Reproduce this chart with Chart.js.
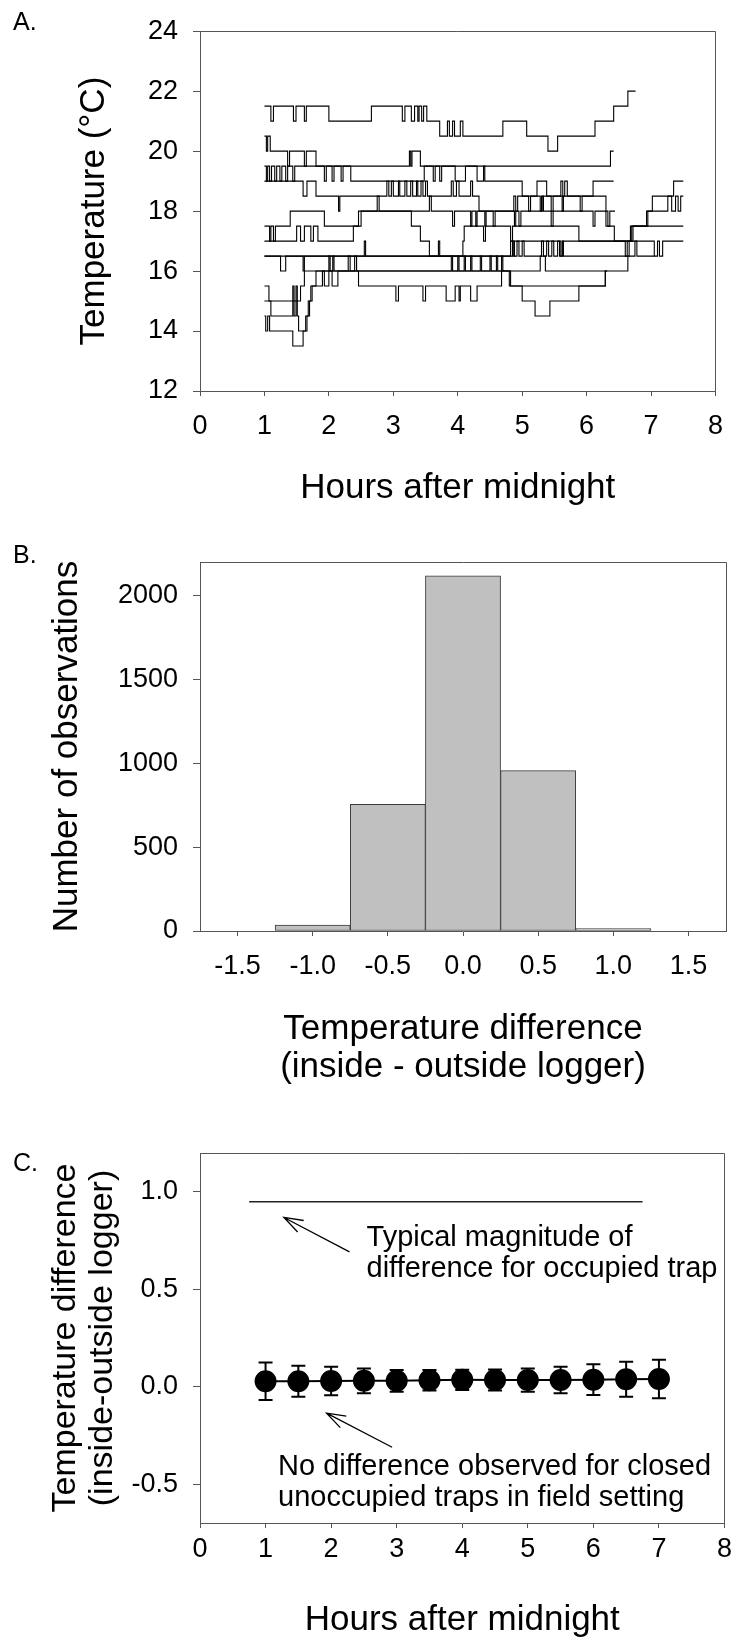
<!DOCTYPE html>
<html>
<head>
<meta charset="utf-8">
<title>Trap temperature loggers</title>
<script src="https://cdn.jsdelivr.net/npm/chart.js@4.4.1/dist/chart.umd.min.js"></script>
<style>
  html, body { margin: 0; padding: 0; background: #fff; }
  body { width: 737px; height: 1640px; position: relative; overflow: hidden; font-family: "Liberation Sans", Arial, sans-serif; }
  canvas { position: absolute; left: 0; }
  .tag { position: absolute; left: 13px; font-size: 25px; line-height: 25px; color: #000; }
</style>
</head>
<body>
<canvas id="chartA" width="737" height="520" style="top:0"></canvas>
<canvas id="chartB" width="737" height="570" style="top:520px"></canvas>
<canvas id="chartC" width="737" height="555" style="top:1090px"></canvas>
<div class="tag" style="top:9px">A.</div>
<div class="tag" style="top:542px">B.</div>
<div class="tag" style="top:1150px">C.</div>
<script>
// A: logger traces, [hour, temp] at each change of reading (0.5 C steps)
var logger1 = [[1.00,21.5],[1.10,21],[1.14,21.5],[1.45,21],[1.49,21.5],[1.62,21],[1.65,21.5],[2.00,21],[2.66,21.5],[3.14,21],[3.18,21.5],[3.28,21],[3.33,21.5],[3.38,21],[3.40,21.5],[3.44,21],[3.47,21.5],[3.52,21],[3.72,20.5],[3.84,21],[3.87,20.5],[3.92,21],[3.95,20.5],[4.04,21],[4.08,20.5],[4.70,21],[5.07,20.5],[5.40,20],[5.55,20.5],[6.13,21],[6.42,21.5],[6.64,22],[6.76,22]];
var logger2 = [[1.00,20.5],[1.03,20],[1.05,20.5],[1.09,20],[1.36,19.5],[1.39,20],[1.62,19.5],[1.65,20],[1.80,19.5],[3.25,20],[3.27,19.5],[3.29,20],[3.42,19.5],[6.37,20],[6.42,20]];
var logger3 = [[1.00,19.5],[1.03,19],[1.05,19.5],[1.08,19],[1.11,19.5],[1.16,19],[1.19,19.5],[1.24,19],[1.27,19.5],[1.33,19],[1.36,19.5],[1.44,19],[1.47,19.5],[1.93,19],[1.96,19.5],[2.05,19],[2.08,19.5],[2.19,19],[2.22,19.5],[2.34,19],[3.48,19.5],[3.62,19],[3.65,19.5],[3.72,19],[3.75,19.5],[3.96,19],[4.12,19.5],[4.30,19],[4.40,19.5],[4.42,19],[5.00,18.5],[5.23,19],[5.38,18.5],[5.60,19],[5.63,18.5],[5.66,19],[5.70,18.5],[6.10,19],[6.42,19]];
var logger4 = [[1.00,19],[1.60,18.5],[1.66,19],[1.80,18.5],[2.15,18],[2.17,18.5],[2.90,19],[2.93,18.5],[2.97,19],[3.00,18.5],[3.08,19],[3.10,18.5],[3.18,19],[3.21,18.5],[3.27,19],[3.30,18.5],[3.36,19],[3.38,18.5],[3.43,19],[3.46,18.5],[3.50,19],[3.53,18.5],[3.90,19],[3.93,18.5],[3.98,19],[4.02,18.5],[4.20,19],[4.23,18.5],[4.33,18],[4.87,18.5],[4.90,18],[4.93,18.5],[5.10,18],[5.13,18.5],[5.28,18],[5.32,18.5],[5.45,18],[5.48,18.5],[5.62,18],[5.64,18.5],[5.90,18],[5.93,18.5],[6.30,18],[6.33,17.5],[6.43,17],[6.70,17.5],[6.93,18],[7.26,18.5],[7.32,18],[7.38,18.5],[7.42,18],[7.46,18.5],[7.50,18.5]];
var logger5 = [[1.00,17.5],[1.08,17],[1.10,17.5],[1.14,17],[1.17,17.5],[1.40,18],[1.93,17.5],[2.50,18],[2.75,18.5],[2.78,18],[3.56,18.5],[3.59,18],[3.92,17.5],[3.95,18],[4.20,17.5],[4.22,18],[4.28,17.5],[4.30,18],[4.42,17.5],[4.44,18],[4.55,17.5],[4.58,18],[4.88,17.5],[4.90,18],[4.95,17.5],[4.98,18],[5.30,18.5],[5.33,18],[5.45,17.5],[5.48,18],[6.10,17.5],[6.13,18],[6.30,17.5],[6.36,18],[6.44,18]];
var logger6 = [[1.00,17],[1.50,17.5],[1.56,17],[1.62,17.5],[1.72,17],[1.76,17.5],[1.83,17],[2.38,17.5],[2.46,18],[3.28,17.5],[3.42,17],[3.56,16.5],[4.08,17],[4.10,17.5],[4.40,17],[4.43,17.5],[4.82,17],[4.85,17.5],[5.88,17],[6.72,17.5],[6.95,18],[7.02,18.5],[7.35,19],[7.50,19]];
var logger7 = [[1.00,16.5],[1.25,16],[1.33,16.5],[2.55,17],[2.57,16.5],[4.85,17],[4.88,16.5],[4.92,17],[4.95,16.5],[5.00,17],[5.03,16.5],[5.30,17],[5.33,16.5],[5.38,17],[5.41,16.5],[5.46,17],[5.49,16.5],[5.55,17],[5.58,16.5],[5.62,17],[5.64,16.5],[6.75,17],[6.78,16.5],[7.05,16.5]];
var logger8 = [[1.00,15],[1.44,15.5],[1.46,15],[1.49,15.5],[1.51,15],[1.56,15.5],[1.62,16],[2.00,16.5],[2.02,16],[2.06,16.5],[2.08,16],[2.30,16.5],[2.33,16],[2.40,16.5],[2.43,16],[3.90,16.5],[3.92,16],[4.00,16.5],[4.02,16],[4.10,16.5],[4.12,16],[4.20,16.5],[4.22,16],[4.35,16.5],[4.37,16],[4.50,16.5],[4.52,16],[4.60,16.5],[4.62,16],[4.68,16.5],[4.70,16],[5.28,16.5],[5.36,16],[6.64,16.5],[6.66,17],[6.68,17.5],[7.50,17.5]];
var logger9 = [[1.00,15.5],[1.07,15],[1.10,14.5],[1.44,15],[1.46,14.5],[1.49,15],[1.51,14.5],[1.53,14],[1.66,14.5],[1.70,15],[1.74,15.5],[1.80,16],[4.80,15.5],[5.00,15],[5.20,14.5],[5.43,15],[5.88,15.5],[6.29,16],[6.32,16]];
var logger10 = [[1.00,14.5],[1.02,14],[1.05,14.5],[1.08,14],[1.44,13.5],[1.60,14],[1.64,14.5],[1.68,15],[1.72,15.5],[1.90,16],[1.93,15.5],[2.00,16],[2.05,15.5],[2.14,16],[2.46,15.5],[3.04,15],[3.08,15.5],[3.46,15],[3.50,15.5],[3.82,15],[3.96,15.5],[4.02,15],[4.04,15.5],[4.20,15],[4.30,15.5],[4.68,16],[4.82,15.5],[6.29,16],[6.31,16]];
var logger11 = [[1.00,16.5],[1.60,16],[1.62,16.5],[3.70,17],[3.72,16.5],[4.82,17],[4.86,16.5],[4.88,17],[5.60,16.5],[5.63,17],[6.60,16.5],[6.63,17],[7.05,16.5],[7.10,17],[7.13,16.5],[7.18,17],[7.50,17]];
var loggers = [logger1, logger2, logger3, logger4, logger5, logger6, logger7, logger8, logger9, logger10, logger11];

// B: histogram of inside - outside differences
var diffBins = ['-1.5', '-1.0', '-0.5', '0.0', '0.5', '1.0', '1.5'];
var diffCounts = [0, 35, 755, 2118, 956, 14, 0];
var countTicks = [0, 500, 1000, 1500, 2000];

// C: mean difference (+/- error) through the night
var hoursC = [1, 1.5, 2, 2.5, 3, 3.5, 4, 4.5, 5, 5.5, 6, 6.5, 7];
var meanDiff = [0.028, 0.028, 0.029, 0.030, 0.030, 0.033, 0.035, 0.034, 0.034, 0.034, 0.036, 0.038, 0.039];
var errDiff = [0.096, 0.080, 0.073, 0.064, 0.056, 0.053, 0.052, 0.054, 0.060, 0.068, 0.079, 0.090, 0.099];
var occupiedHours = [0.75, 6.75];
var occupiedDiff = 0.95;

var axisGrey = '#555';
var fontFam = '"Liberation Sans", Arial, sans-serif';
Chart.defaults.font.family = fontFam;
Chart.defaults.color = '#000';
Chart.defaults.animation = false;
Chart.defaults.plugins.legend.display = false;
Chart.defaults.plugins.tooltip.enabled = false;

// top and right sides of the box
var framePlugin = {
  id: 'frame',
  afterDraw: function(chart) {
    var a = chart.chartArea, ctx = chart.ctx;
    ctx.save();
    ctx.strokeStyle = axisGrey;
    ctx.lineWidth = 1;
    ctx.beginPath();
    ctx.moveTo(Math.round(a.left), Math.round(a.top) + 0.5);
    ctx.lineTo(Math.round(a.right) + 0.5, Math.round(a.top) + 0.5);
    ctx.lineTo(Math.round(a.right) + 0.5, Math.round(a.bottom));
    ctx.stroke();
    ctx.restore();
  }
};

function grid(len) {
  return { drawOnChartArea: false, tickLength: len, color: axisGrey, tickColor: axisGrey };
}

new Chart(document.getElementById('chartA'), {
  type: 'line',
  data: {
    datasets: loggers.map(function(d) {
      return { data: d, borderColor: '#000', borderWidth: 1.1, pointRadius: 0, stepped: 'before', fill: false };
    })
  },
  options: {
    responsive: false,
    layout: { padding: { top: 23, right: 11, left: 0, bottom: 0 } },
    scales: {
      x: {
        type: 'linear', min: 0, max: 8,
        ticks: { stepSize: 1, padding: 14, font: { size: 27 } },
        grid: grid(5), border: { color: axisGrey },
        title: { display: true, text: 'Hours after midnight', font: { size: 35 }, padding: { top: 0, bottom: 11 } },
        afterFit: function(s) { s.height = 129; }
      },
      y: {
        min: 12, max: 24,
        ticks: { stepSize: 2, padding: 15, font: { size: 27 } },
        grid: grid(7), border: { color: axisGrey },
        title: { display: true, text: 'Temperature (°C)', font: { size: 35 }, padding: { top: 73, bottom: 0 } },
        afterFit: function(s) { s.width = 200; }
      }
    }
  },
  plugins: [framePlugin]
});

new Chart(document.getElementById('chartB'), {
  type: 'bar',
  data: {
    labels: diffBins,
    datasets: [{
      data: diffCounts, backgroundColor: '#c0c0c0', borderColor: '#3c3c3c', borderWidth: 1,
      borderSkipped: false, barPercentage: 1, categoryPercentage: 1
    }]
  },
  options: {
    responsive: false,
    layout: { padding: { top: 42, right: 11, left: 0, bottom: 0 } },
    scales: {
      x: {
        offset: true,
        ticks: { padding: 14, font: { size: 27 } },
        grid: { offset: false, drawOnChartArea: false, tickLength: 5, color: axisGrey, tickColor: axisGrey },
        border: { color: axisGrey },
        title: {
          display: true, text: ['Temperature difference', '(inside - outside logger)'],
          font: { size: 35, lineHeight: 1.0857 }, padding: { top: 0, bottom: 4 }
        },
        afterFit: function(s) { s.height = 159; }
      },
      y: {
        min: 0, max: 2200,
        ticks: { padding: 15, font: { size: 27 }, callback: function(v) { return String(v); } },
        afterBuildTicks: function(s) { s.ticks = countTicks.map(function(v) { return { value: v }; }); },
        grid: grid(7), border: { color: axisGrey },
        title: { display: true, text: 'Number of observations', font: { size: 35 }, padding: { top: 46, bottom: 0 } },
        afterFit: function(s) { s.width = 200; }
      }
    }
  },
  plugins: [framePlugin]
});

// annotation text and arrows of panel C, anchored in data units
var notes = [
  { x: 2.54, y: 0.725, lines: ['Typical magnitude of', 'difference for occupied trap'] },
  { x: 1.19, y: -0.452, lines: ['No difference observed for closed', 'unoccupied traps in field setting'] }
];
var arrows = [
  { from: [2.28, 0.692], to: [1.28, 0.869] },
  { from: [2.93, -0.311], to: [1.93, -0.136] }
];

var errorBarPlugin = {
  id: 'errorBars',
  afterDatasetsDraw: function(chart) {
    var ctx = chart.ctx, xs = chart.scales.x, ys = chart.scales.y;
    ctx.save();
    ctx.strokeStyle = '#000';
    ctx.lineWidth = 2;
    hoursC.forEach(function(h, i) {
      var px = xs.getPixelForValue(h);
      var top = ys.getPixelForValue(meanDiff[i] + errDiff[i]);
      var bot = ys.getPixelForValue(meanDiff[i] - errDiff[i]);
      ctx.beginPath();
      ctx.moveTo(px, top); ctx.lineTo(px, bot);
      ctx.moveTo(px - 7, top); ctx.lineTo(px + 7, top);
      ctx.moveTo(px - 7, bot); ctx.lineTo(px + 7, bot);
      ctx.stroke();
    });
    ctx.restore();
  }
};

var notePlugin = {
  id: 'notes',
  afterDraw: function(chart) {
    var ctx = chart.ctx, xs = chart.scales.x, ys = chart.scales.y;
    ctx.save();
    ctx.fillStyle = '#000';
    ctx.font = '29px ' + fontFam;
    ctx.textBaseline = 'alphabetic';
    ctx.textAlign = 'left';
    notes.forEach(function(n) {
      var px = xs.getPixelForValue(n.x), py = ys.getPixelForValue(n.y);
      n.lines.forEach(function(t, k) { ctx.fillText(t, px, py + k * 31.5); });
    });
    ctx.strokeStyle = '#000';
    ctx.lineWidth = 1.3;
    arrows.forEach(function(a) {
      var x1 = xs.getPixelForValue(a.from[0]), y1 = ys.getPixelForValue(a.from[1]);
      var x2 = xs.getPixelForValue(a.to[0]), y2 = ys.getPixelForValue(a.to[1]);
      var ang = Math.atan2(y1 - y2, x1 - x2), w = 19 * Math.PI / 180, len = 20;
      ctx.beginPath();
      ctx.moveTo(x1, y1); ctx.lineTo(x2, y2);
      ctx.moveTo(x2 + len * Math.cos(ang - w), y2 + len * Math.sin(ang - w));
      ctx.lineTo(x2, y2);
      ctx.lineTo(x2 + len * Math.cos(ang + w), y2 + len * Math.sin(ang + w));
      ctx.stroke();
    });
    ctx.restore();
  }
};

new Chart(document.getElementById('chartC'), {
  type: 'line',
  data: {
    datasets: [
      {
        data: occupiedHours.map(function(h) { return { x: h, y: occupiedDiff }; }),
        borderColor: '#222', borderWidth: 1.5, pointRadius: 0, fill: false
      },
      {
        data: hoursC.map(function(h, i) { return { x: h, y: meanDiff[i] }; }),
        borderColor: '#000', borderWidth: 2, pointRadius: 10,
        pointBackgroundColor: '#000', pointBorderColor: '#000', fill: false
      }
    ]
  },
  options: {
    responsive: false,
    layout: { padding: { top: 63, right: 11, left: 0, bottom: 0 } },
    scales: {
      x: {
        type: 'linear', min: 0, max: 8,
        ticks: { stepSize: 1, padding: 5, font: { size: 27 } },
        grid: grid(5), border: { color: axisGrey },
        title: { display: true, text: 'Hours after midnight', font: { size: 35 }, padding: { top: 0, bottom: 4 } },
        afterFit: function(s) { s.height = 122; }
      },
      y: {
        min: -0.7, max: 1.2,
        ticks: { stepSize: 0.5, includeBounds: false, padding: 15, font: { size: 27 },
                 callback: function(v) { return v.toFixed(1); } },
        grid: grid(7), border: { color: axisGrey },
        title: {
          display: true, text: ['Temperature difference', '(inside-outside logger)'],
          font: { size: 34, lineHeight: 1.1 }, padding: { top: 47, bottom: 0 }
        },
        afterFit: function(s) { s.width = 200; }
      }
    }
  },
  plugins: [framePlugin, errorBarPlugin, notePlugin]
});
</script>
</body>
</html>
